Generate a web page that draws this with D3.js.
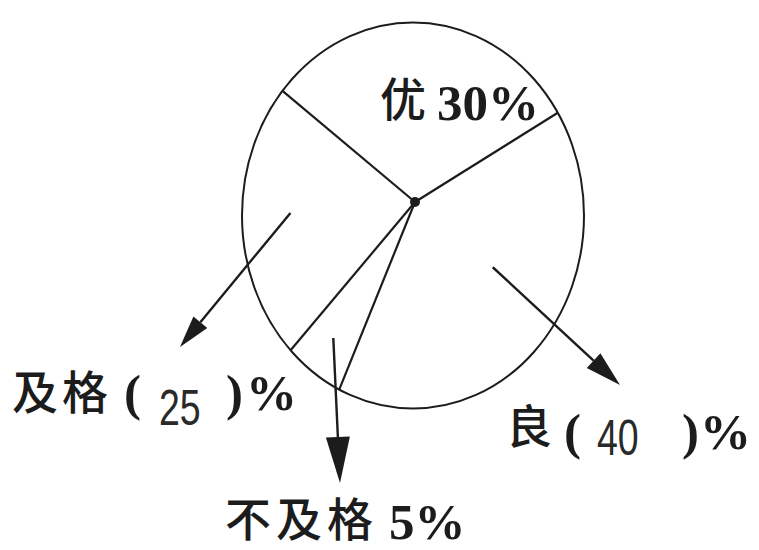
<!DOCTYPE html>
<html>
<head>
<meta charset="utf-8">
<script src="https://cdn.jsdelivr.net/npm/d3@7"></script>
<style>
  body { margin: 0; background: #fff; }
</style>
</head>
<body>
<div id="chart"></div>
<script>
// data
const categories = ["优", "良", "不及格", "及格"];
const percents = [30, 40, 5, 25];

const width = 759, height = 550;
const cx = 413, cy = 215.5, rx = 171, ry = 193; // the (slightly squashed) pie outline
const hub = [415, 202];
const startDeg = -50;
const ink = "#1c1c1c";

const svg = d3.select("#chart")
  .append("svg")
  .attr("width", width)
  .attr("height", height);

const pie = d3.pie()
  .sort(null)
  .value(d => d)
  .startAngle(startDeg * Math.PI / 180)
  .endAngle((startDeg + 360) * Math.PI / 180);

const arcs = pie(percents);

// distance from hub to the outline along angle a (clockwise from 12 o'clock)
function rayLen(a) {
  const ux = Math.sin(a) / rx, uy = -Math.cos(a) / ry;
  const ox = (hub[0] - cx) / rx, oy = (hub[1] - cy) / ry;
  const A = ux * ux + uy * uy, B = 2 * (ox * ux + oy * uy), C = ox * ox + oy * oy - 1;
  return (-B + Math.sqrt(B * B - 4 * A * C)) / (2 * A);
}
function pt(a, t) {
  return [hub[0] + Math.sin(a) * t, hub[1] - Math.cos(a) * t];
}

// outline
svg.append("ellipse")
  .attr("cx", cx).attr("cy", cy)
  .attr("rx", rx).attr("ry", ry)
  .attr("fill", "none")
  .attr("stroke", ink)
  .attr("stroke-width", 2);

// slice borders
svg.selectAll("line.border")
  .data(arcs)
  .join("line")
  .attr("class", "border")
  .attr("x1", hub[0]).attr("y1", hub[1])
  .attr("x2", d => pt(d.startAngle, rayLen(d.startAngle))[0])
  .attr("y2", d => pt(d.startAngle, rayLen(d.startAngle))[1])
  .attr("stroke", ink)
  .attr("stroke-width", 2.2);

svg.append("circle")
  .attr("cx", hub[0]).attr("cy", hub[1])
  .attr("r", 5)
  .attr("fill", ink);

// arrows from inside a slice out to its label (优 is labelled inside)
const arrowLayout = [
  null,
  { frac: 0.55, tip: [620, 385], len: 36, w: 20 },
  { frac: 0.8, tip: [340, 483], len: 46, w: 24 },
  { frac: 0.72, tip: [180, 347], len: 32, w: 18 }
];

arcs.forEach((d, i) => {
  const lay = arrowLayout[i];
  if (!lay) return;
  const mid = (d.startAngle + d.endAngle) / 2;
  const s = pt(mid, rayLen(mid) * lay.frac);
  const [tx, ty] = lay.tip;
  const dx = tx - s[0], dy = ty - s[1];
  const n = Math.hypot(dx, dy);
  const ux = dx / n, uy = dy / n;
  const bx = tx - ux * lay.len, by = ty - uy * lay.len;
  svg.append("line")
    .attr("x1", s[0]).attr("y1", s[1])
    .attr("x2", bx).attr("y2", by)
    .attr("stroke", ink)
    .attr("stroke-width", 2.4);
  svg.append("path")
    .attr("d", d3.line()([
      [tx, ty],
      [bx - uy * lay.w / 2, by + ux * lay.w / 2],
      [bx + uy * lay.w / 2, by - ux * lay.w / 2]
    ]) + "Z")
    .attr("fill", ink);
});

// labels
const cjk = "'Noto Sans CJK SC', 'Noto Sans CJK JP', sans-serif";
const serif = "'Liberation Serif', 'DejaVu Serif', serif";
const hand = "'Liberation Sans', Arimo, sans-serif";

function cjkText(x, y, str, spacing) {
  svg.append("text")
    .attr("x", x).attr("y", y)
    .attr("font-family", cjk)
    .attr("font-weight", 500)
    .attr("font-size", 46)
    .attr("letter-spacing", spacing || 0)
    .attr("fill", ink)
    .text(str);
}
function boldText(x, y, str) {
  svg.append("text")
    .attr("x", x).attr("y", y)
    .attr("font-family", serif)
    .attr("font-weight", "bold")
    .attr("font-size", 51)
    .attr("fill", ink)
    .text(str);
}
function blankText(x, y, str) {
  svg.append("text")
    .attr("transform", `translate(${x},${y}) scale(0.75,1)`)
    .attr("font-family", hand)
    .attr("font-size", 50)
    .attr("fill", "#2a2a2a")
    .text(str);
}

// 优
cjkText(380, 116, categories[0]);
boldText(437, 120, percents[0] + "%");

// 良 ( 40 )%
cjkText(506, 443, categories[1]);
boldText(564, 449, "(");
blankText(597, 455, String(percents[1]));
boldText(682, 449, ")");
boldText(700, 449, "%");

// 不及格 5%
cjkText(225, 536, categories[2], 5);
boldText(389, 539, percents[2] + "%");

// 及格 ( 25 )%
cjkText(12, 409, categories[3], 4);
boldText(124, 410, "(");
blankText(159, 425, String(percents[3]));
boldText(226, 410, ")");
boldText(246, 410, "%");
</script>
</body>
</html>
